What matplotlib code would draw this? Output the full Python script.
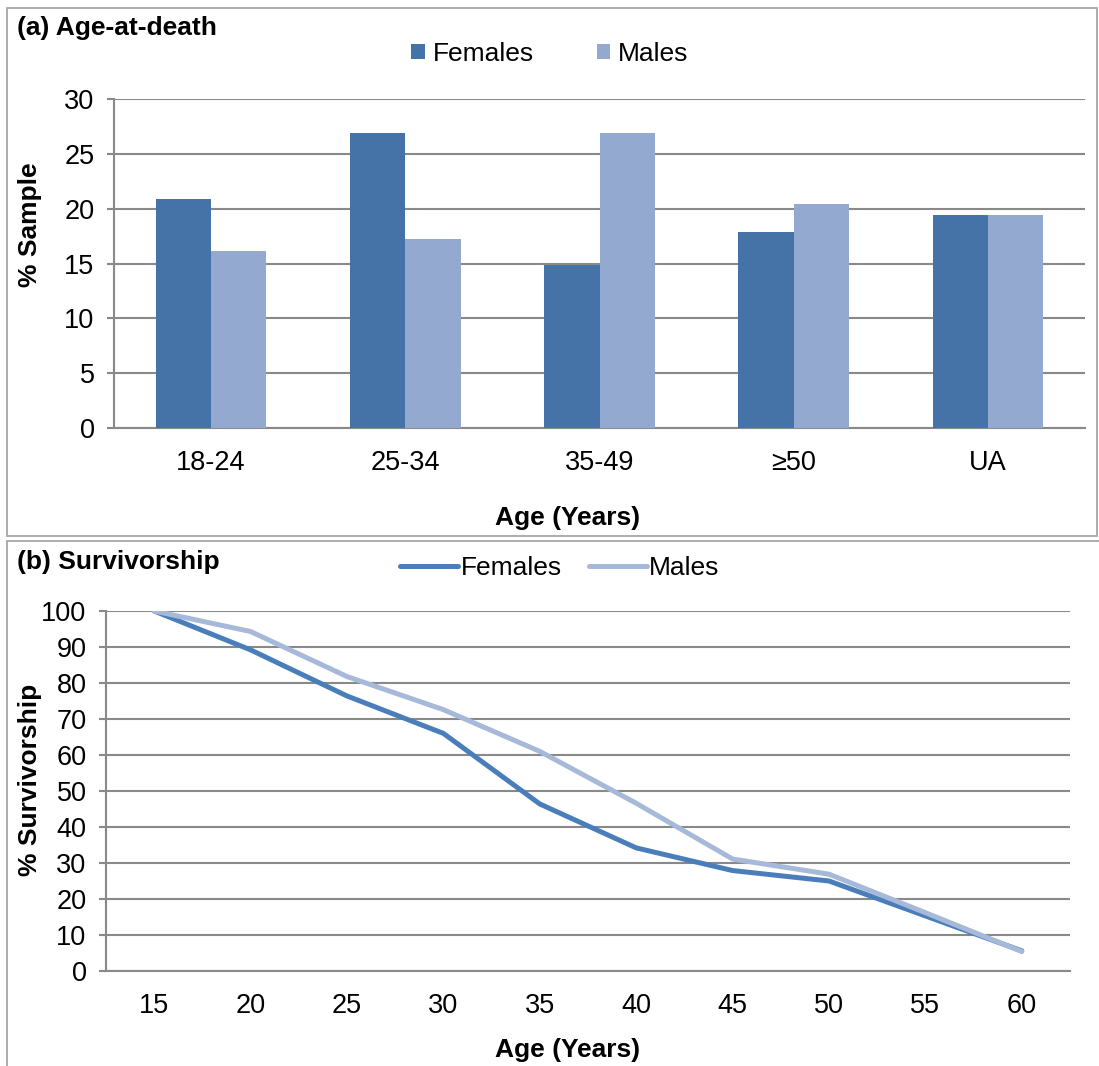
import matplotlib
matplotlib.use("Agg")
import matplotlib.pyplot as plt
from matplotlib.patches import Rectangle
import numpy as np

# ---- data ----
age_groups = ["18-24", "25-34", "35-49", "\u226550", "UA"]
females_pct = [20.9, 26.9, 14.9, 17.9, 19.4]
males_pct = [16.1, 17.2, 26.9, 20.4, 19.4]

surv_ages = ["15", "20", "25", "30", "35", "40", "45", "50", "55", "60"]
females_surv = [100, 89.2, 76.4, 66.0, 46.4, 34.2, 27.9, 25.0, 15.3, 5.6]
males_surv = [100, 94.3, 81.8, 72.6, 61.0, 46.6, 31.1, 26.9, 16.2, 5.4]

plt.rcParams['font.family'] = ['Liberation Sans', 'DejaVu Sans']

W, H = 1099, 1066
fig = plt.figure(figsize=(W / 100, H / 100), dpi=100)

def fx(px):
    return px / W

def fy(py):
    return 1 - py / H

# panel borders
border_col = "#a6a6a6"
fig.patches.append(Rectangle((fx(7), fy(536)), fx(1097) - fx(7), fy(8) - fy(536),
                             transform=fig.transFigure, fill=False, ec=border_col, lw=1.3))
fig.patches.append(Rectangle((fx(7), fy(1075)), fx(1110) - fx(7), fy(541) - fy(1075),
                             transform=fig.transFigure, fill=False, ec=border_col, lw=1.3,
                             clip_on=False))

grid_col = "#898989"
FS = 19.5
LFS = 19
BFS = 19
c_f_bar = "#4572A7"
c_m_bar = "#93A9CF"
c_f_line = "#4A7EBB"
c_m_line = "#A7B9D8"

def style_axes(ax):
    for s in ["top", "right"]:
        ax.spines[s].set_visible(False)
    ax.spines["left"].set_color(grid_col)
    ax.spines["bottom"].set_color(grid_col)
    ax.spines["left"].set_linewidth(1.5)
    ax.spines["bottom"].set_linewidth(1.5)
    ax.yaxis.grid(True, color=grid_col, lw=1.5)
    ax.set_axisbelow(True)
    ax.tick_params(axis="y", length=5, width=1.5, color=grid_col, labelsize=FS, pad=9)
    ax.tick_params(axis="x", length=0, labelsize=FS, pad=16)

# ---- top: bars ----
ax1 = fig.add_axes([fx(114), fy(428), fx(1085) - fx(114), fy(99) - fy(428)])
x = np.arange(len(age_groups))
bw = 0.285
ax1.bar(x - bw / 2, females_pct, bw, color=c_f_bar, label="Females", zorder=3)
ax1.bar(x + bw / 2, males_pct, bw, color=c_m_bar, label="Males", zorder=3)
ax1.set_xlim(-0.5, len(age_groups) - 0.5)
ax1.set_ylim(0, 30)
ax1.set_yticks(range(0, 31, 5))
ax1.set_xticks(x)
ax1.set_xticklabels(age_groups)
style_axes(ax1)
ax1.legend(loc="center", bbox_to_anchor=(fx(550), fy(54)), bbox_transform=fig.transFigure,
           ncol=2, frameon=False, fontsize=LFS, handlelength=0.5, handleheight=0.5,
           handletextpad=0.3, columnspacing=2.4)

fig.text(fx(17), fy(28), "(a) Age-at-death", fontsize=BFS, fontweight="bold", ha="left", va="center")
fig.text(fx(30), fy(225), "% Sample", fontsize=BFS, fontweight="bold", rotation=90, ha="center", va="center")
fig.text(fx(568), fy(518), "Age (Years)", fontsize=BFS, fontweight="bold", ha="center", va="center")

# ---- bottom: survivorship lines ----
ax2 = fig.add_axes([fx(106), fy(971), fx(1070) - fx(106), fy(611) - fy(971)])
xs = np.arange(len(surv_ages))
ax2.plot(xs, females_surv, color=c_f_line, lw=3.6, label="Females", zorder=3,
         solid_capstyle="round", solid_joinstyle="round")
ax2.plot(xs, males_surv, color=c_m_line, lw=3.6, label="Males", zorder=4,
         solid_capstyle="round", solid_joinstyle="round")
ax2.set_xlim(-0.5, len(surv_ages) - 0.5)
ax2.set_ylim(0, 100)
ax2.set_yticks(range(0, 101, 10))
ax2.set_xticks(xs)
ax2.set_xticklabels(surv_ages)
style_axes(ax2)
ax2.legend(loc="center", bbox_to_anchor=(fx(560), fy(568)), bbox_transform=fig.transFigure,
           ncol=2, frameon=False, fontsize=LFS, handlelength=2.2,
           handletextpad=0.1, columnspacing=1.0)

fig.text(fx(17), fy(562), "(b) Survivorship", fontsize=BFS, fontweight="bold", ha="left", va="center")
fig.text(fx(30), fy(780), "% Survivorship", fontsize=BFS, fontweight="bold", rotation=90, ha="center", va="center")
fig.text(fx(568), fy(1050), "Age (Years)", fontsize=BFS, fontweight="bold", ha="center", va="center")

fig.savefig("out.png", dpi=100)
